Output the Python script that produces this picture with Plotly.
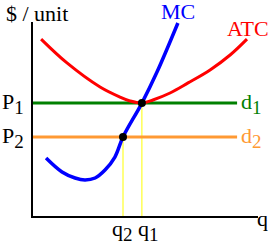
import plotly.graph_objects as go

# ---- data (in chart units) ----
mc_q = [0.58, 1.29, 1.87, 2.31, 2.76, 3.20, 3.64, 4.00, 4.84, 5.51, 6.44]
mc_p = [2.99, 2.27, 1.96, 1.86, 1.96, 2.37, 3.04, 4.07, 5.82, 7.42, 9.95]

atc_q = [0.36, 1.51, 2.98, 3.87, 4.31, 4.84, 5.33, 6.09, 6.89, 7.87, 8.76, 9.51]
atc_p = [9.12, 7.89, 6.65, 6.13, 5.93, 5.82, 5.98, 6.34, 6.86, 7.53, 8.30, 9.12]

P1, P2 = 5.82, 4.07
q1, q2 = 4.84, 4.00
d_end = 9.07

SUB = "<sub><span style='font-size:19px'>{}</span></sub>"
price_labels = ["P" + SUB.format(1), "P" + SUB.format(2)]
qty_labels = ["q" + SUB.format(1), "q" + SUB.format(2)]
demand_labels = ["d" + SUB.format(1), "d" + SUB.format(2)]

RED = "#ff0000"
BLUE = "#0000ff"
GREEN = "#008000"
ORANGE = "#ff9933"
YELLOW = "#ffff00"
FONT = "Liberation Serif"
XMAX, YMAX = 10.0, 10.0

fig = go.Figure()

# yellow drop lines
for qq, pp in [(q2, P2), (q1, P1)]:
    fig.add_trace(go.Scatter(x=[qq, qq], y=[0, pp], mode="lines",
                             line=dict(color=YELLOW, width=1), hoverinfo="skip"))

fig.add_trace(go.Scatter(x=[0, d_end], y=[P1, P1], mode="lines",
                         line=dict(color=GREEN, width=3)))
fig.add_trace(go.Scatter(x=mc_q, y=mc_p, mode="lines", line_shape="spline",
                         line=dict(color=BLUE, width=3.5)))
fig.add_trace(go.Scatter(x=[0, d_end], y=[P2, P2], mode="lines",
                         line=dict(color=ORANGE, width=3)))
fig.add_trace(go.Scatter(x=atc_q, y=atc_p, mode="lines", line_shape="spline",
                         line=dict(color=RED, width=3)))
fig.add_trace(go.Scatter(x=[q2, q1], y=[P2, P1], mode="markers",
                         marker=dict(color="black", size=8)))

ann = []
def A(text, x, y, color="black", xanchor="center", yanchor="middle"):
    ann.append(dict(text=text, x=x / XMAX, y=y / YMAX, xref="paper", yref="paper",
                    showarrow=False, xanchor=xanchor, yanchor=yanchor,
                    font=dict(family=FONT, size=22, color=color)))

A("$ / unit", -1.27, 10.46, xanchor="left")
A("MC", 6.44, 10.52, BLUE)
A("ATC", 9.56, 9.69, RED)
A(price_labels[0], -0.31, P1, xanchor="right")
A(price_labels[1], -0.31, P2, xanchor="right")
A(demand_labels[0], 9.15, P1, GREEN, xanchor="left")
A(demand_labels[1], 9.15, P2, ORANGE, xanchor="left")
A(qty_labels[1], 3.97, -0.75)
A(qty_labels[0], 5.12, -0.75)
A("q", 10.22, -0.15)

fig.update_layout(
    width=275, height=245,
    margin=dict(l=33, r=17, t=22, b=29),
    paper_bgcolor="white", plot_bgcolor="white",
    showlegend=False,
    annotations=ann,
    xaxis=dict(range=[0, XMAX], showgrid=False, zeroline=False, showline=True,
               linecolor="black", linewidth=2, showticklabels=False, ticks=""),
    yaxis=dict(range=[0, YMAX], showgrid=False, zeroline=False, showline=True,
               linecolor="black", linewidth=2, showticklabels=False, ticks=""),
)

fig.write_html("out.html")
